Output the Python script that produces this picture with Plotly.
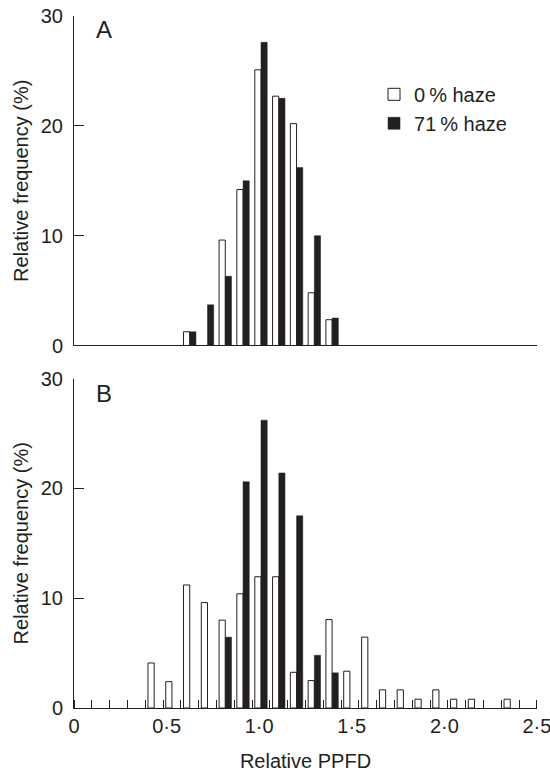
import plotly.graph_objects as go
from plotly.subplots import make_subplots

# ---- data (relative frequency, %) ----
# bin centres of relative PPFD (bins of equal width, 26 bins between 0 and 2.5)
bins_a = [0.625, 0.721, 0.817, 0.913, 1.010, 1.106, 1.202, 1.298, 1.394]
haze0_a = [1.25, None, 9.6, 14.2, 25.1, 22.7, 20.2, 4.8, 2.35]
haze71_a = [1.25, 3.7, 6.3, 15.0, 27.6, 22.5, 16.2, 10.0, 2.5]

bins_b = [0.433, 0.529, 0.625, 0.721, 0.817, 0.913, 1.010, 1.106, 1.202, 1.298,
          1.394, 1.490, 1.587, 1.683, 1.779, 1.875, 1.971, 2.067, 2.163, 2.260, 2.356]
haze0_b = [4.1, 2.4, 11.2, 9.6, 8.0, 10.4, 11.95, 11.95, 3.25, 2.5,
           8.05, 3.35, 6.45, 1.65, 1.65, 0.8, 1.65, 0.8, 0.8, None, 0.8]
haze71_b = [None, None, None, None, 6.45, 20.6, 26.2, 21.4, 17.5, 4.8,
            3.2, None, None, None, None, None, None, None, None, None, None]

x_tickvals = [0, 0.5, 1.0, 1.5, 2.0, 2.5]
x_ticktext = ["0", "0·5", "1·0", "1·5", "2·0", "2·5"]
y_tickvals = [0, 10, 20, 30]
series_names = ["0\u2009% haze", "71\u2009% haze"]

INK = "#231f20"
FONT = "Liberation Sans, Arial, Helvetica, sans-serif"
BAR_W = 0.0335

fig = make_subplots(rows=2, cols=1, vertical_spacing=0.0477)

for row, (bins, w0, w71) in enumerate([(bins_a, haze0_a, haze71_a),
                                        (bins_b, haze0_b, haze71_b)], start=1):
    fig.add_trace(go.Bar(
        x=bins, y=w0, name=series_names[0], width=BAR_W, offset=-BAR_W,
        marker=dict(color="white", line=dict(color=INK, width=1)),
        showlegend=(row == 1)), row=row, col=1)
    fig.add_trace(go.Bar(
        x=bins, y=w71, name=series_names[1], width=BAR_W, offset=0,
        marker=dict(color=INK, line=dict(color=INK, width=0.5)),
        showlegend=(row == 1)), row=row, col=1)

common_y = dict(range=[0, 30], tickvals=y_tickvals, ticks="inside", ticklen=10,
                tickcolor=INK, showline=True, linecolor=INK, linewidth=1,
                showgrid=False, zeroline=False, ticklabelstandoff=6,
                automargin=False,
                tickfont=dict(size=20, color=INK, family=FONT),
                title=dict(text="Relative frequency (%)", standoff=6,
                           font=dict(size=20, color=INK, family=FONT)))
fig.update_yaxes(**common_y)

fig.update_xaxes(range=[0, 2.5005], showline=True, linecolor=INK, linewidth=1,
                 showgrid=False, zeroline=False, automargin=False)
fig.update_xaxes(showticklabels=False, ticks="", row=1, col=1)
fig.update_xaxes(tickvals=x_tickvals, ticktext=x_ticktext, ticks="",
                 ticklabeloverflow="allow",
                 tickfont=dict(size=20, color=INK, family=FONT),
                 minor=dict(dtick=2.5 / 26, tick0=0, ticks="inside", ticklen=8,
                            tickcolor=INK, showgrid=False),
                 title=dict(text="Relative PPFD", standoff=22,
                            font=dict(size=20, color=INK, family=FONT)),
                 row=2, col=1)

fig.update_layout(
    width=550, height=772,
    margin=dict(l=74, r=13, t=16, b=64),
    plot_bgcolor="white", paper_bgcolor="white",
    barmode="overlay",
    font=dict(family=FONT, color=INK, size=20),
    legend=dict(x=0.648, y=0.915, xanchor="left", yanchor="top",
                bgcolor="rgba(0,0,0,0)", font=dict(size=20, color=INK, family=FONT),
                tracegroupgap=0, itemwidth=30),
    annotations=[
        dict(text="A", x=0.065, y=0.981, xref="paper", yref="paper",
             xanchor="center", yanchor="middle",
             showarrow=False, font=dict(size=24, color=INK, family=FONT)),
        dict(text="B", x=0.065, y=0.455, xref="paper", yref="paper",
             xanchor="center", yanchor="middle",
             showarrow=False, font=dict(size=24, color=INK, family=FONT)),
    ],
)

fig.write_html("out.html")
